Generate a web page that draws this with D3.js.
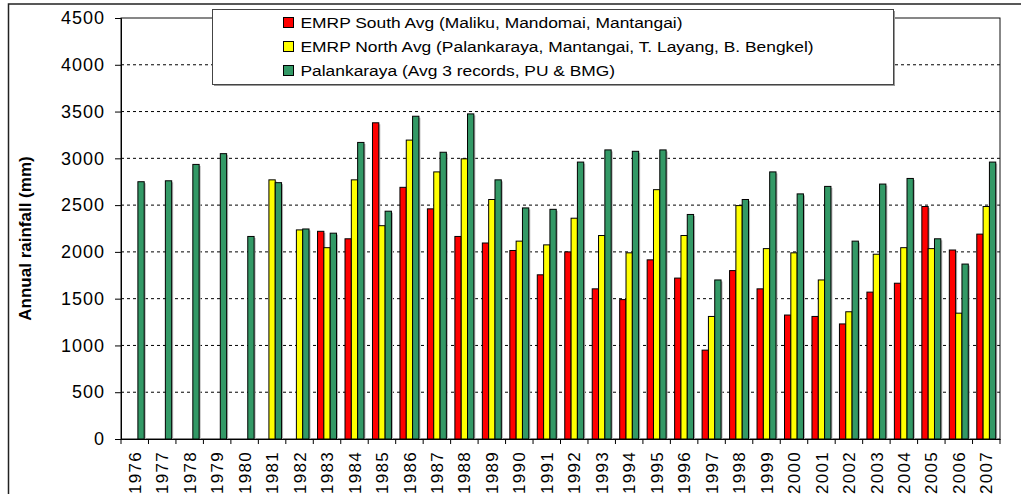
<!DOCTYPE html>
<html>
<head>
<meta charset="utf-8">
<script src="https://cdn.jsdelivr.net/npm/d3@7"></script>
<style>
  body { margin: 0; background: #fff; }
  svg { display: block; font-family: "Liberation Sans", Arial, sans-serif; }
</style>
</head>
<body>
<svg id="drawing_region"></svg>
<script>
const years = ["1976","1977","1978","1979","1980","1981","1982","1983","1984","1985",
               "1986","1987","1988","1989","1990","1991","1992","1993","1994","1995",
               "1996","1997","1998","1999","2000","2001","2002","2003","2004","2005",
               "2006","2007"];

const southAvg = [null, null, null, null, null, null, null, 2220, 2140, 3380,
                  2690, 2460, 2165, 2095, 2015, 1755, 2000, 1605, 1490, 1915,
                  1720, 950, 1800, 1605, 1325, 1310, 1230, 1570, 1665, 2485,
                  2020, 2190];

const northAvg = [null, null, null, null, null, 2770, 2235, 2045, 2770, 2280,
                  3195, 2855, 2995, 2560, 2115, 2075, 2360, 2175, 1990, 2665,
                  2175, 1310, 2495, 2035, 1990, 1700, 1360, 1975, 2045, 2035,
                  1345, 2485];

const palangka = [2750, 2760, 2935, 3050, 2165, 2740, 2245, 2200, 3170, 2435,
                  3450, 3065, 3475, 2770, 2470, 2455, 2960, 3090, 3075, 3090,
                  2400, 1700, 2560, 2855, 2620, 2700, 2115, 2725, 2785, 2140,
                  1870, 2960];

const seriesNames = ["EMRP South Avg (Maliku, Mandomai, Mantangai)",
                     "EMRP North Avg (Palankaraya, Mantangai, T. Layang, B. Bengkel)",
                     "Palankaraya (Avg 3 records, PU & BMG)"];
const seriesColors = ["#ff0000", "#ffff00", "#339966"];
const yTicks = [0, 500, 1000, 1500, 2000, 2500, 3000, 3500, 4000, 4500];

class GroupedBarChart {

  constructor( config ) {
    this.config = config;
    this.init();
  }

  init() {
    let self = this;
    const c = self.config;

    self.svg = d3.select( c.parent )
        .attr('width', c.width)
        .attr('height', c.height);

    // outer chart frame (right/bottom edges fall outside the picture)
    self.svg.append('rect')
        .attr('x', 8.5).attr('y', 4)
        .attr('width', c.width + 20).attr('height', c.height + 20)
        .attr('fill', 'none')
        .attr('stroke', '#222')
        .attr('stroke-width', 1.5);

    self.chart = self.svg.append('g')
        .attr('transform', `translate(${c.margin.left}, ${c.margin.top})`);

    self.inner_width = c.width - c.margin.left - c.margin.right;
    self.inner_height = c.height - c.margin.top - c.margin.bottom;

    self.xscale = d3.scaleBand()
        .domain( years )
        .range( [0, self.inner_width] )
        .paddingInner( 0.31 )
        .paddingOuter( 0.155 );

    self.subscale = d3.scaleBand()
        .domain( [0, 1, 2] )
        .range( [0, self.xscale.bandwidth()] );

    self.yscale = d3.scaleLinear()
        .domain( [0, 4500] )
        .range( [self.inner_height, 0] );
  }

  render() {
    let self = this;
    const h = self.inner_height, w = self.inner_width;

    // dashed gridlines
    self.chart.append('g')
        .selectAll('line')
        .data( yTicks.filter(t => t > 0 && t < 4500) )
        .join('line')
        .attr('x1', 0).attr('x2', w)
        .attr('y1', d => self.yscale(d)).attr('y2', d => self.yscale(d))
        .attr('stroke', '#000')
        .attr('stroke-width', 1)
        .attr('stroke-dasharray', '3,3');

    // plot area border
    self.chart.append('rect')
        .attr('x', 0).attr('y', 0)
        .attr('width', w).attr('height', h)
        .attr('fill', 'none')
        .attr('stroke', '#111')
        .attr('stroke-width', 1);

    const series = [southAvg, northAvg, palangka];
    const bars = [];
    series.forEach( (vals, si) => {
      vals.forEach( (v, i) => {
        if (v !== null) bars.push({ year: years[i], value: v, s: si });
      });
    });

    const bx = d => self.xscale(d.year) + self.subscale(d.s);
    const bw = self.subscale.bandwidth();

    // bar shadows
    self.chart.append('g')
        .selectAll('rect')
        .data( bars )
        .join('rect')
        .attr('x', d => bx(d) + 1.5)
        .attr('y', d => self.yscale(d.value) + 1.5)
        .attr('width', bw)
        .attr('height', d => h - self.yscale(d.value) - 1.5)
        .attr('fill', '#b5b5b5');

    self.chart.append('g')
        .selectAll('rect')
        .data( bars )
        .join('rect')
        .attr('x', d => bx(d))
        .attr('y', d => self.yscale(d.value))
        .attr('width', bw)
        .attr('height', d => h - self.yscale(d.value))
        .attr('fill', d => seriesColors[d.s])
        .attr('stroke', '#000')
        .attr('stroke-width', 1);

    // y axis
    const yaxis_group = self.chart.append('g')
        .call( d3.axisLeft( self.yscale )
                 .tickValues( yTicks )
                 .tickFormat( d3.format('d') )
                 .tickSize(6).tickPadding(10) );
    yaxis_group.select('.domain').attr('stroke', '#000');
    yaxis_group.selectAll('text')
        .attr('font-family', '"Liberation Sans", Arial, sans-serif')
        .attr('font-size', '18px')
        .attr('letter-spacing', '1px')
        .attr('fill', '#000');

    // x axis: labels through the band axis, ticks at the band boundaries
    const xaxis_group = self.chart.append('g')
        .attr('transform', `translate(0, ${h})`)
        .call( d3.axisBottom( self.xscale ).tickSize(0) );
    xaxis_group.select('.domain').attr('stroke', '#000');
    xaxis_group.selectAll('text')
        .attr('font-family', '"Liberation Sans", Arial, sans-serif')
        .attr('font-size', '17px')
        .attr('letter-spacing', '1.3px')
        .attr('fill', '#000')
        .attr('transform', 'rotate(-90)')
        .attr('text-anchor', 'end')
        .attr('x', -12)
        .attr('y', 0)
        .attr('dy', '0.36em');

    const half = self.xscale.step() * self.xscale.paddingInner() / 2;
    xaxis_group.append('g')
        .selectAll('line')
        .data( years.concat(['end']) )
        .join('line')
        .attr('x1', d => d === 'end' ? w : self.xscale(d) - half)
        .attr('x2', d => d === 'end' ? w : self.xscale(d) - half)
        .attr('y1', 0).attr('y2', 5)
        .attr('stroke', '#000');

    // y axis title
    self.chart.append('text')
        .attr('transform', `translate(${-self.config.margin.left + 31}, ${h / 2 + 10}) rotate(-90)`)
        .attr('text-anchor', 'middle')
        .attr('font-size', '17px')
        .attr('font-weight', 'bold')
        .text('Annual rainfall (mm)');

    // legend
    const lg = self.svg.append('g').attr('transform', 'translate(212, 9)');
    lg.append('rect')
        .attr('x', 2).attr('y', 2)
        .attr('width', 681).attr('height', 75)
        .attr('fill', '#999');
    lg.append('rect')
        .attr('x', 0.5).attr('y', 0.5)
        .attr('width', 681).attr('height', 75)
        .attr('fill', '#fff')
        .attr('stroke', '#444');

    const items = lg.selectAll('.item')
        .data( seriesNames )
        .join('g')
        .attr('class', 'item')
        .attr('transform', (d, i) => `translate(71, ${13.5 + i * 24})`);
    items.append('rect')
        .attr('x', 0.5).attr('y', -5)
        .attr('width', 10).attr('height', 10)
        .attr('fill', (d, i) => seriesColors[i])
        .attr('stroke', '#000');
    items.append('text')
        .attr('transform', 'translate(17.5, 0) scale(1.2, 1)')
        .attr('dy', '0.36em')
        .attr('font-size', '14.5px')
        .text(d => d);
  }
}

const chart = new GroupedBarChart({
  parent: '#drawing_region',
  width: 1021,
  height: 494,
  margin: {top: 18, right: 21, bottom: 55, left: 121}
});
chart.render();
</script>
</body>
</html>
